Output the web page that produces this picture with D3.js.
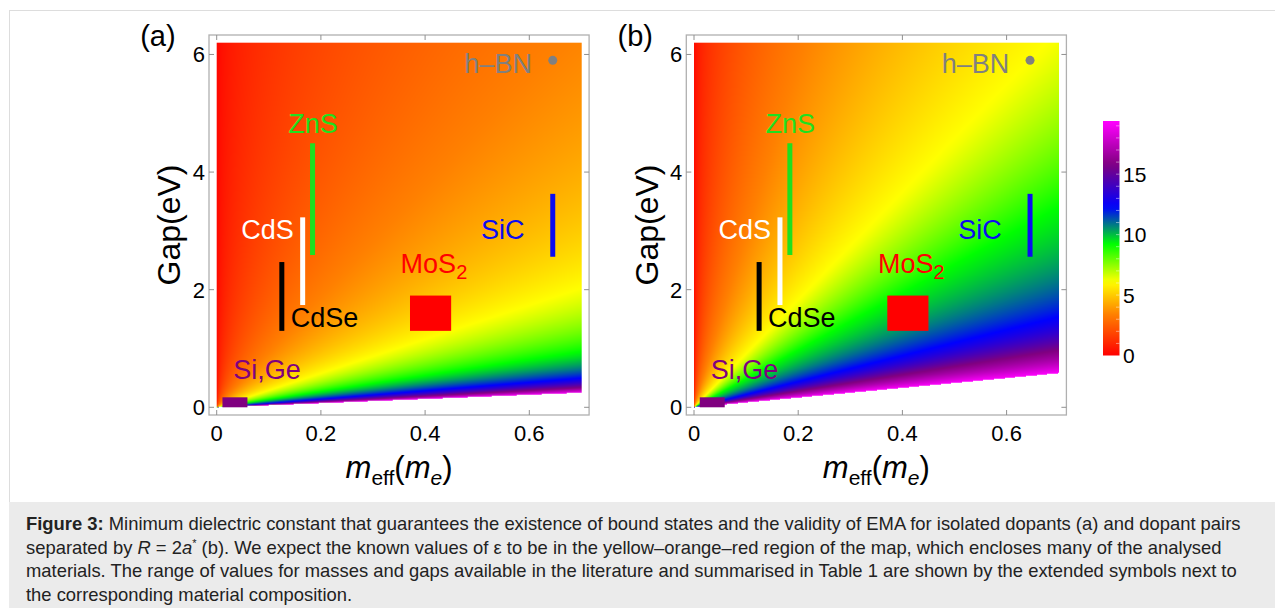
<!DOCTYPE html>
<html>
<head>
<meta charset="utf-8">
<script src="https://cdn.jsdelivr.net/npm/d3@7"></script>
<style>
body { margin: 0; background: #fff; }
svg text { font-family: "Liberation Sans", Arial, Helvetica, sans-serif; }
</style>
</head>
<body>
<svg id="fig" width="1275" height="608"></svg>
<script>
// colour read along rays from the origin, converted to epsilon with the bar legend
// ratio = gap / m_eff  (eV per m_e)
var rayRatioA = [3000, 300, 8.86, 2.9, 1.36, 0.71, 0.357];
var rayEpsA   = [0.2, 0.6, 3.5, 6.1, 9.2, 12.3, 19.0];
var rayRatioB = [3000, 300, 20, 8.86, 4.87, 3.09, 2.2, 1.39, 0.83];
var rayEpsB   = [0.35, 1.1, 4.1, 6.2, 9.2, 10.8, 12.3, 15.8, 19.3];

// colour legend
var colorStops = [0, 3.4, 6.1, 9.2, 12.3, 15.8, 19.3];
var colorNames = ["#ff0000", "#ff8000", "#ffff00", "#00ff00", "#0000ff", "#800080", "#ff00ff"];
var legendTicks = [0, 5, 10, 15];

// axes
var xTicks = [0, 0.2, 0.4, 0.6];
var yTicks = [0, 2, 4, 6];

// material ranges (vertical bars)
var barMat   = ["CdSe", "CdS", "ZnS", "SiC"];
var barM     = [0.125, 0.165, 0.184, 0.645];
var barGapLo = [1.30, 1.74, 2.59, 2.56];
var barGapHi = [2.47, 3.23, 4.49, 3.63];
var barColor = ["#000000", "#ffffff", "#1fe01f", "#0c0cf0"];

// material boxes
var boxMat   = ["Si,Ge", "MoS2"];
var boxMLo   = [0.011, 0.371];
var boxMHi   = [0.059, 0.450];
var boxGapLo = [0.0, 1.30];
var boxGapHi = [0.17, 1.90];
var boxColor = ["#800080", "#ff0000"];

// h-BN point
var dotM = [0.645], dotGap = [5.9];

// labels
var labText   = ["ZnS", "CdS", "CdSe", "SiC", "MoS", "h\u2013BN", "Si,Ge"];
var labM      = [0.185, 0.148, 0.142, 0.549, 0.353, 0.605, 0.032];
var labGap    = [4.67, 2.87, 1.366, 2.87, 2.28, 5.68, 0.476];
var labAnchor = ["middle", "end", "start", "middle", "start", "end", "start"];
var labColor  = ["#1fe01f", "#ffffff", "#000000", "#0c0cf0", "#ff0000", "#808080", "#800080"];

var svg = d3.select("#fig");

// figure frame and caption box
svg.append("rect").attr("x", 9.5).attr("y", 10.5).attr("width", 1270).attr("height", 600)
    .attr("fill", "none").attr("stroke", "#dddddd");
svg.append("rect").attr("x", 9).attr("y", 502).attr("width", 1266).attr("height", 106)
    .attr("fill", "#ebebeb");

var color = d3.scaleLinear().domain(colorStops).range(colorNames).clamp(true);

function panel(name, left, rayR, rayE) {
    var x = d3.scaleLinear().domain([0, 0.7]).range([left, left + 364.7]);
    var y = d3.scaleLinear().domain([0, 6.2]).range([407.3, 42.7]);
    var g = svg.append("g");

    // density map
    var eps = d3.scalePow().exponent(-0.5).domain(rayR).range(rayE).clamp(true);
    var minR = d3.min(rayR);
    var x0 = x(0), y0 = y(6.2);
    var w = Math.round(x(0.7) - x0), h = Math.round(y(0) - y0);
    var cv = document.createElement("canvas");
    cv.width = w; cv.height = h;
    var ctx = cv.getContext("2d");
    var img = ctx.createImageData(w, h);
    for (var j = 0; j < h; j++) {
        var gap = y.invert(y0 + j + 0.5);
        for (var i = 0; i < w; i++) {
            var m = x.invert(x0 + i + 0.5);
            var r = gap / m;
            if (r < minR) continue;
            var c = d3.rgb(color(eps(r)));
            var k = (j * w + i) * 4;
            img.data[k] = c.r; img.data[k + 1] = c.g; img.data[k + 2] = c.b; img.data[k + 3] = 255;
        }
    }
    ctx.putImageData(img, 0, 0);
    g.append("image").attr("x", x0).attr("y", y0).attr("width", w).attr("height", h)
        .attr("preserveAspectRatio", "none").attr("href", cv.toDataURL());

    // frame
    var fl = x(0) - 7.7, fr = x(0.7) + 7.7, ft = y(6.2) - 7.7, fb = y(0) + 7.7;
    g.append("rect").attr("x", fl).attr("y", ft).attr("width", fr - fl).attr("height", fb - ft)
        .attr("fill", "none").attr("stroke", "#b0b0b0").attr("stroke-width", 1.3);

    xTicks.forEach(function (t) {
        g.append("line").attr("x1", x(t)).attr("x2", x(t)).attr("y1", fb).attr("y2", fb - 5).attr("stroke", "#909090");
        g.append("line").attr("x1", x(t)).attr("x2", x(t)).attr("y1", ft).attr("y2", ft + 5).attr("stroke", "#909090");
        g.append("text").attr("x", x(t)).attr("y", fb + 26).attr("text-anchor", "middle")
            .attr("font-size", 22).text(t === 0 ? "0" : t.toFixed(1));
    });
    yTicks.forEach(function (t) {
        g.append("line").attr("x1", fl).attr("x2", fl + 5).attr("y1", y(t)).attr("y2", y(t)).attr("stroke", "#909090");
        g.append("line").attr("x1", fr).attr("x2", fr - 5).attr("y1", y(t)).attr("y2", y(t)).attr("stroke", "#909090");
        g.append("text").attr("x", fl - 4).attr("y", y(t) + 8).attr("text-anchor", "end")
            .attr("font-size", 22).text(t);
    });

    // boxes
    g.selectAll(".box").data(boxMat).enter().append("rect")
        .attr("x", function (d, i) { return x(boxMLo[i]); })
        .attr("y", function (d, i) { return y(boxGapHi[i]); })
        .attr("width", function (d, i) { return x(boxMHi[i]) - x(boxMLo[i]); })
        .attr("height", function (d, i) { return y(boxGapLo[i]) - y(boxGapHi[i]); })
        .attr("fill", function (d, i) { return boxColor[i]; });

    // range bars
    g.selectAll(".bar").data(barMat).enter().append("line")
        .attr("x1", function (d, i) { return x(barM[i]); })
        .attr("x2", function (d, i) { return x(barM[i]); })
        .attr("y1", function (d, i) { return y(barGapLo[i]); })
        .attr("y2", function (d, i) { return y(barGapHi[i]); })
        .attr("stroke", function (d, i) { return barColor[i]; })
        .attr("stroke-width", 5);

    g.selectAll(".dot").data(dotM).enter().append("circle")
        .attr("cx", function (d) { return x(d); })
        .attr("cy", function (d, i) { return y(dotGap[i]); })
        .attr("r", 4.5).attr("fill", "#808080");

    // labels
    var lab = g.selectAll(".lab").data(labText).enter().append("text")
        .attr("x", function (d, i) { return x(labM[i]); })
        .attr("y", function (d, i) { return y(labGap[i]); })
        .attr("text-anchor", function (d, i) { return labAnchor[i]; })
        .attr("fill", function (d, i) { return labColor[i]; })
        .attr("font-size", 27)
        .text(function (d) { return d; });
    lab.filter(function (d) { return d === "MoS"; }).append("tspan")
        .attr("font-size", 20).attr("dy", 6).text("2");

    // axis titles
    g.append("text").attr("transform", "translate(" + (left - 36.5) + "," + y(3.1) + ") rotate(-90)")
        .attr("text-anchor", "middle").attr("font-size", 32).text("Gap(eV)");
    var xt = g.append("text").attr("x", x(0.35)).attr("y", 478).attr("text-anchor", "middle").attr("font-size", 31);
    xt.append("tspan").attr("font-style", "italic").text("m");
    xt.append("tspan").attr("font-size", 21).attr("dy", 7).text("eff");
    xt.append("tspan").attr("dy", -7).text("(");
    xt.append("tspan").attr("font-style", "italic").text("m");
    xt.append("tspan").attr("font-style", "italic").attr("font-size", 21).attr("dy", 7).text("e");
    xt.append("tspan").attr("dy", -7).text(")");

    g.append("text").attr("x", left - 76.5).attr("y", 46).attr("font-size", 29).text(name);
}

panel("(a)", 216.7, rayRatioA, rayEpsA);
panel("(b)", 694, rayRatioB, rayEpsB);

// colour legend
var ly = d3.scaleLinear().domain([0, 19.4]).range([355.5, 121]);
var defs = svg.append("defs");
var grad = defs.append("linearGradient").attr("id", "legendGrad")
    .attr("x1", 0).attr("y1", 1).attr("x2", 0).attr("y2", 0);
grad.selectAll("stop").data(d3.range(0, 41)).enter().append("stop")
    .attr("offset", function (d) { return d / 40; })
    .attr("stop-color", function (d) { return color(d / 40 * 19.4); });
svg.append("rect").attr("x", 1103).attr("y", ly(19.4)).attr("width", 16.5)
    .attr("height", ly(0) - ly(19.4)).attr("fill", "url(#legendGrad)");
svg.selectAll(".minor").data(d3.range(1, 20)).enter().append("line")
    .attr("x1", 1116).attr("x2", 1119.5)
    .attr("y1", function (d) { return ly(d); }).attr("y2", function (d) { return ly(d); })
    .attr("stroke", "#ffffff").attr("stroke-opacity", 0.45);
svg.selectAll(".ltick").data(legendTicks).enter().append("text")
    .attr("x", 1123).attr("y", function (d) { return ly(d) + 7.5; })
    .attr("font-size", 21).text(function (d) { return d; });

// caption
var capLines = [
    [["b", "Figure 3:"], ["n", " Minimum dielectric constant that guarantees the existence of bound states and the validity of EMA for isolated dopants (a) and dopant pairs"]],
    [["n", "separated by "], ["i", "R"], ["n", " = 2"], ["i", "a"], ["s", "*"], ["n", " (b). We expect the known values of \u03b5 to be in the yellow\u2013orange\u2013red region of the map, which encloses many of the analysed"]],
    [["n", "materials. The range of values for masses and gaps available in the literature and summarised in Table 1 are shown by the extended symbols next to"]],
    [["n", "the corresponding material composition."]]
];
capLines.forEach(function (line, li) {
    var t = svg.append("text").attr("x", 26).attr("y", 530 + li * 23.6)
        .attr("font-size", 18.4).attr("fill", "#222222");
    line.forEach(function (p) {
        var s = t.append("tspan").text(p[1]);
        if (p[0] === "b") s.attr("font-weight", "bold");
        if (p[0] === "i") s.attr("font-style", "italic");
        if (p[0] === "s") s.attr("font-size", 11).attr("dy", -7);
        if (p[0] === "n" && li === 1 && p[1].indexOf(" (b)") === 0) s.attr("dy", 7);
    });
});
</script>
</body>
</html>
